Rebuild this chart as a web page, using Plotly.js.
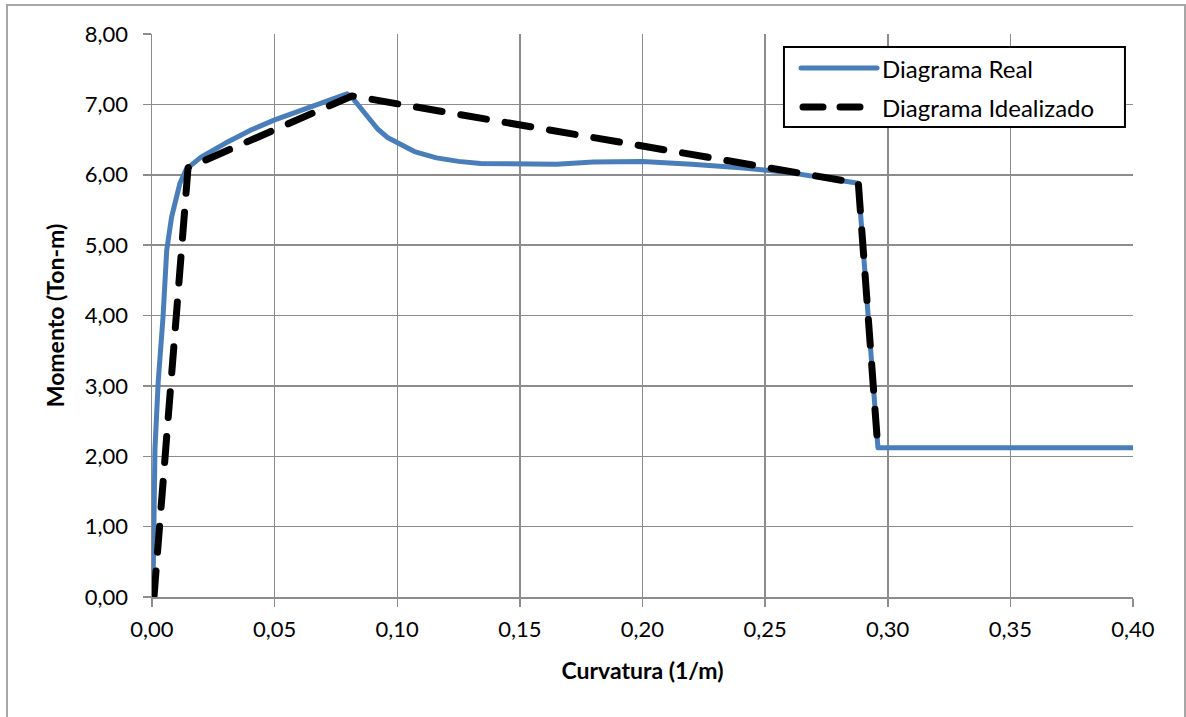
<!DOCTYPE html>
<html>
<head>
<meta charset="utf-8">
<script src="https://cdn.plot.ly/plotly-3.0.1.min.js"></script>
<style>
html,body{margin:0;padding:0;background:#fff;}
#frame{position:absolute;left:6px;top:4px;width:1180px;height:720px;border:2px solid #a6a6a6;box-sizing:border-box;}
#chart{position:absolute;left:0;top:0;width:1186px;height:717px;}
.scatterlayer path.js-line{stroke-linecap:round;stroke-linejoin:round;}
.layer-above path{stroke-linecap:round;}
</style>
</head>
<body>
<div id="frame"></div>
<div id="chart"></div>
<script>
const realX = [0, 0.0004, 0.0012, 0.0025, 0.0045, 0.006, 0.008, 0.0114, 0.014, 0.02, 0.03, 0.04, 0.05, 0.06, 0.07, 0.076, 0.0795, 0.082, 0.085, 0.0877, 0.092, 0.096, 0.10, 0.107, 0.116, 0.125, 0.134, 0.15, 0.165, 0.18, 0.20, 0.22, 0.24, 0.26, 0.28, 0.288, 0.296, 0.40];
const realY = [0, 0.06, 2.09, 3.04, 3.98, 4.93, 5.40, 5.88, 6.08, 6.25, 6.45, 6.63, 6.78, 6.90, 7.03, 7.10, 7.15, 7.08, 6.95, 6.82, 6.65, 6.53, 6.45, 6.33, 6.24, 6.19, 6.16, 6.15, 6.15, 6.18, 6.19, 6.15, 6.10, 6.03, 5.93, 5.88, 2.12, 2.12];
const idealX = [0.0008, 0.0147, 0.0815, 0.288, 0.296];
const idealY = [0, 6.10, 7.12, 5.88, 2.10];
const xTicks = [0, 0.05, 0.10, 0.15, 0.20, 0.25, 0.30, 0.35, 0.40];
const yTicks = [0, 1, 2, 3, 4, 5, 6, 7, 8];
const names = ["Diagrama Real", "Diagrama Idealizado"];

const FONT = "Lato, 'Open Sans', sans-serif";
const BLUE = "#4a7ebb";
const traces = [
  {x: realX, y: realY, mode: "lines", name: names[0], showlegend: false,
   line: {color: BLUE, width: 5}},
  {x: idealX, y: idealY, mode: "lines", name: names[1], showlegend: false,
   line: {color: "#000000", width: 7, dash: "26px,19px"}}
];
const axisCommon = {
  showgrid: true, gridcolor: "#8c8c8c", gridwidth: 1.5,
  showline: true, linecolor: "#8c8c8c", linewidth: 1.5,
  ticks: "outside", ticklen: 8, tickcolor: "#8c8c8c", tickwidth: 1.5,
  tickfont: {family: FONT, size: 22, color: "#000"},
  zeroline: false, tickformat: ".2f", fixedrange: true
};
// custom legend (paper coordinates)
const lx0 = 0.6442, lx1 = 0.9918, ly0 = 0.8348, ly1 = 0.9769;
const row1 = 0.9396, row2 = 0.8703;
const shapes = [
  {type: "rect", xref: "paper", yref: "paper", x0: lx0, x1: lx1, y0: ly0, y1: ly1,
   line: {color: "#000", width: 2}, fillcolor: "#fff", layer: "above"},
  {type: "line", xref: "paper", yref: "paper", x0: 0.6616, x1: 0.7391, y0: row1, y1: row1,
   line: {color: BLUE, width: 5}, layer: "above"},
  {type: "line", xref: "paper", yref: "paper", x0: 0.6636, x1: 0.7381, y0: row2, y1: row2,
   line: {color: "#000", width: 7, dash: "20px,17px"}, layer: "above"}
];
const annotations = [
  {xref: "paper", yref: "paper", x: 0.7421, y: row1, xanchor: "left", yanchor: "middle",
   text: names[0], showarrow: false, font: {family: FONT, size: 24, color: "#000"}},
  {xref: "paper", yref: "paper", x: 0.7421, y: row2, xanchor: "left", yanchor: "middle",
   text: names[1], showarrow: false, font: {family: FONT, size: 24, color: "#000"}}
];
const layout = {
  width: 1186, height: 717,
  margin: {l: 152, r: 53, t: 34, b: 120},
  paper_bgcolor: "rgba(0,0,0,0)", plot_bgcolor: "#fff",
  separators: ",.",
  showlegend: false,
  shapes: shapes, annotations: annotations,
  xaxis: Object.assign({}, axisCommon, {range: [0, 0.40], tickvals: xTicks, ticklabelstandoff: 4,
    title: {text: "Curvatura (1/m)", font: {family: FONT, size: 23, color: "#000", weight: "bold"}, standoff: 22}}),
  yaxis: Object.assign({}, axisCommon, {range: [0, 8], tickvals: yTicks, ticklabelstandoff: 10,
    title: {text: "Momento (Ton-m)", font: {family: FONT, size: 23, color: "#000", weight: "bold"}, standoff: 14}})
};
Plotly.newPlot("chart", traces, layout, {displayModeBar: false, staticPlot: true});
</script>
</body>
</html>
